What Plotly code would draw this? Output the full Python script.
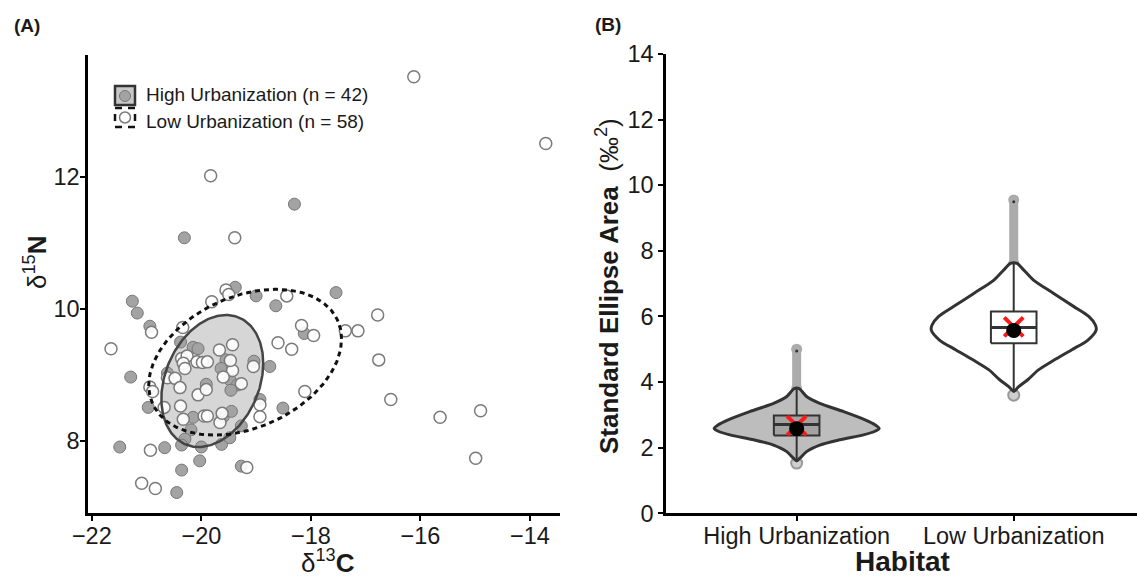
import numpy as np
import plotly.graph_objects as go

W, H = 1137, 577

# ---------------- Panel A data (isotope values) ----------------
high_d13C = [-18.30, -20.31, -21.26, -21.17, -20.94, -19.38, -19.00, -18.64, -17.54, -18.12,
             -21.29, -20.97, -20.38, -20.15, -20.06, -19.55, -19.64, -19.48, -19.34, -19.46,
             -19.91, -20.62, -20.15, -19.60, -19.45, -20.19, -20.30, -20.36, -20.00, -19.63,
             -19.48, -19.27, -19.04, -18.75, -18.93, -18.51, -21.49, -20.67, -20.03, -20.36,
             -19.27, -20.45]
high_d15N = [11.59, 11.08, 10.12, 9.94, 9.74, 10.33, 10.20, 10.05, 10.25, 9.63,
             8.97, 8.51, 9.50, 9.42, 9.40, 9.23, 9.10, 8.93, 8.85, 8.77,
             8.86, 9.03, 8.36, 8.37, 8.45, 8.17, 8.03, 7.94, 7.91, 7.95,
             8.05, 8.23, 9.21, 9.13, 8.63, 8.50, 7.91, 7.90, 7.70, 7.56,
             7.62, 7.22]

low_d13C = [-19.83, -19.39, -20.91, -19.81, -19.55, -19.50, -18.44, -18.17, -17.95, -20.34,
            -21.65, -20.94, -20.89, -20.68, -20.36, -20.26, -20.33, -20.08, -19.98, -19.89,
            -19.67, -19.43, -19.43, -19.60, -19.27, -20.06, -19.91, -20.62, -20.48, -20.38,
            -20.33, -19.95, -19.89, -19.66, -19.05, -18.60, -18.35, -18.93, -18.93, -18.11,
            -20.93, -19.17, -21.09, -20.84, -16.12, -13.71, -16.78, -17.37, -17.14, -16.76,
            -16.54, -15.64, -14.90, -14.99, -20.39, -19.47, -20.30, -19.62]
low_d15N = [12.02, 11.08, 9.65, 10.11, 10.29, 10.22, 10.20, 9.75, 9.60, 9.72,
            9.40, 8.82, 8.75, 8.51, 9.25, 9.29, 9.18, 9.20, 9.19, 9.20,
            9.38, 9.46, 9.07, 8.97, 8.87, 8.70, 8.78, 8.96, 8.95, 8.53,
            8.33, 8.38, 8.38, 8.28, 9.13, 9.49, 9.39, 8.55, 8.37, 8.75,
            7.86, 7.60, 7.36, 7.28, 13.52, 12.51, 9.91, 9.67, 9.67, 9.23,
            8.63, 8.36, 8.46, 7.74, 8.81, 9.22, 9.10, 8.42]

# Standard ellipse parameters (centre, covariance)
high_center = [-19.80, 8.91]
high_cov = [[0.865, 0.25], [0.25, 1.00]]
low_center = [-19.20, 9.195]
low_cov = [[3.10, 0.62], [0.62, 1.22]]

x_ticks_A = [-22, -20, -18, -16, -14]
y_ticks_A = [8, 10, 12]

# ---------------- Panel B data (SEA posterior summaries) ----------------
habitats = ["High Urbanization", "Low Urbanization"]
hab_pos = [1, 2]
sea_q1 = [2.37, 5.18]
sea_median = [2.71, 5.66]
sea_q3 = [2.98, 6.15]
sea_whisk_lo = [1.56, 3.68]
sea_whisk_hi = [3.80, 7.62]
sea_out_max = [5.00, 9.55]
sea_out_min = [1.53, 3.60]
sea_mean = [2.58, 5.57]
sea_mode = [2.67, 5.68]

high_dens_y = [1.60, 1.68, 1.88, 2.08, 2.24, 2.39, 2.50, 2.59, 2.70, 2.85, 3.10, 3.35, 3.56, 3.80]
high_dens_w = [0.00, 0.04, 0.12, 0.28, 0.52, 0.81, 0.95, 1.00, 0.95, 0.83, 0.57, 0.28, 0.12, 0.03]
low_dens_y = [3.72, 3.86, 4.07, 4.37, 4.67, 4.98, 5.28, 5.59, 5.74, 6.00, 6.30, 6.71, 7.11, 7.42, 7.62]
low_dens_w = [0.00, 0.06, 0.17, 0.30, 0.49, 0.70, 0.90, 1.00, 0.99, 0.91, 0.73, 0.48, 0.24, 0.12, 0.04]
y_ticks_B = [0, 2, 4, 6, 8, 10, 12, 14]

FONT = "Liberation Sans, Arial, sans-serif"
TXT = "#1a1a1a"


def ellipse(center, cov, n=240):
    L = np.linalg.cholesky(np.array(cov))
    t = np.linspace(0, 2 * np.pi, n)
    pts = L @ np.vstack([np.cos(t), np.sin(t)])
    return center[0] + pts[0], center[1] + pts[1]


def px(x):
    return x / W


def py(y):
    return 1 - y / H


def sc(**kw):
    base = dict(hoverinfo="skip", showlegend=False, xaxis="x2", yaxis="y2")
    base.update(kw)
    return go.Scatter(**base)


fig = go.Figure()

# ----- Panel A -----
hx, hy = ellipse(high_center, high_cov)
lx, ly = ellipse(low_center, low_cov)

fig.add_trace(go.Scatter(x=hx, y=hy, mode="lines", fill="toself", fillcolor="#d6d6d6",
                         line=dict(width=0), hoverinfo="skip", showlegend=False,
                         xaxis="x", yaxis="y"))
fig.add_trace(go.Scatter(x=high_d13C, y=high_d15N, mode="markers",
                         marker=dict(size=12, color="#a3a3a3", line=dict(color="#777777", width=1)),
                         showlegend=False, xaxis="x", yaxis="y"))
fig.add_trace(go.Scatter(x=low_d13C, y=low_d15N, mode="markers",
                         marker=dict(size=12, color="rgba(255,255,255,0.9)",
                                     line=dict(color="#7a7a7a", width=1.5)),
                         showlegend=False, xaxis="x", yaxis="y"))
fig.add_trace(go.Scatter(x=hx, y=hy, mode="lines", line=dict(color="#454545", width=2.5),
                         hoverinfo="skip", showlegend=False, xaxis="x", yaxis="y"))
fig.add_trace(go.Scatter(x=lx, y=ly, mode="lines", line=dict(color="#111111", width=3, dash="5px,4px"),
                         hoverinfo="skip", showlegend=False, xaxis="x", yaxis="y"))

# ----- Panel B -----
HALF_W = 0.38
BOX_HW = 0.105
violin_fill = ["#bdbdbd", "#ffffff"]
box_fill = ["#a3a3a3", "#ffffff"]
dens = [(high_dens_y, high_dens_w), (low_dens_y, low_dens_w)]

for i, pos in enumerate(hab_pos):
    # outlier column
    fig.add_trace(sc(x=[pos, pos], y=[sea_whisk_hi[i], sea_out_max[i]], mode="lines+markers",
                     line=dict(color="#ababab", width=9), marker=dict(size=11, color="#ababab")))
    fig.add_trace(sc(x=[pos], y=[sea_out_max[i] - 0.05], mode="markers",
                     marker=dict(size=3, color="#333333")))
    fig.add_trace(sc(x=[pos], y=[sea_out_min[i]], mode="markers",
                     marker=dict(size=11, color="#cfcfcf", line=dict(color="#9a9a9a", width=2))))
    # violin outline
    dy = np.array(dens[i][0])
    dw = np.array(dens[i][1])
    vx = np.concatenate([pos - HALF_W * dw, (pos + HALF_W * dw)[::-1]])
    vy = np.concatenate([dy, dy[::-1]])
    fig.add_trace(sc(x=vx, y=vy, mode="lines", fill="toself", fillcolor=violin_fill[i],
                     line=dict(color="#333333", width=3, shape="spline", smoothing=0.8)))
    # whisker
    fig.add_trace(sc(x=[pos, pos], y=[sea_whisk_lo[i], sea_whisk_hi[i]], mode="lines",
                     line=dict(color="#333333", width=2)))
    # box
    fig.add_trace(sc(x=[pos - BOX_HW, pos + BOX_HW, pos + BOX_HW, pos - BOX_HW, pos - BOX_HW],
                     y=[sea_q1[i], sea_q1[i], sea_q3[i], sea_q3[i], sea_q1[i]],
                     mode="lines", fill="toself", fillcolor=box_fill[i],
                     line=dict(color="#333333", width=2)))
    fig.add_trace(sc(x=[pos - BOX_HW, pos + BOX_HW], y=[sea_median[i], sea_median[i]],
                     mode="lines", line=dict(color="#333333", width=3)))
    # mode (red x) and mean (black dot)
    fig.add_trace(sc(x=[pos], y=[sea_mode[i]], mode="markers",
                     marker=dict(symbol="x-thin", size=19, line=dict(color="#ff1a1a", width=4))))
    fig.add_trace(sc(x=[pos], y=[sea_mean[i]], mode="markers",
                     marker=dict(size=15, color="#000000")))

axis_common = dict(showline=True, linecolor="#000000", linewidth=2.5, ticks="outside",
                   ticklen=5, tickwidth=1.5, tickcolor="#000000", showgrid=False, zeroline=False,
                   automargin=False, tickfont=dict(family=FONT, size=23.5, color=TXT))

fig.update_layout(
    width=W, height=H, margin=dict(l=0, r=0, t=0, b=0, pad=0, autoexpand=False),
    paper_bgcolor="white", plot_bgcolor="white", showlegend=False,
    font=dict(family=FONT, color=TXT),
    xaxis=dict(domain=[px(88), px(560)], range=[-22.07, -13.45], anchor="y", ticklabelstandoff=-5,
               tickvals=x_ticks_A, ticktext=["\u2212" + str(abs(v)) for v in x_ticks_A], **axis_common),
    yaxis=dict(domain=[py(513), py(55)], range=[6.91, 13.85], anchor="x", ticklabelstandoff=-4,
               tickvals=y_ticks_A, **axis_common),
    xaxis2=dict(domain=[px(666), 1.0], range=[0.398, 2.568], anchor="y2", ticklabelstandoff=-5,
                tickvals=hab_pos, ticktext=habitats, **axis_common),
    yaxis2=dict(domain=[py(513.3), py(54)], range=[0, 14], anchor="x2",
                tickvals=y_ticks_B, **axis_common),
)

# Axis titles and panel labels
ann = [
    dict(text="<b>(A)</b>", x=px(12), y=py(26), xanchor="left", yanchor="middle", font=dict(size=19)),
    dict(text="<b>(B)</b>", x=px(593), y=py(25), xanchor="left", yanchor="middle", font=dict(size=19)),
    dict(text="\u03b4<sup>13</sup><b>C</b>", x=px(328), y=py(561), xanchor="center", yanchor="middle",
         font=dict(size=26)),
    dict(text="\u03b4<sup>15</sup><b>N</b>", x=px(36), y=py(262), xanchor="center", yanchor="middle",
         textangle=-90, font=dict(size=26)),
    dict(text="<b>Standard Ellipse Area</b>\u00a0\u00a0(\u2030<sup>2</sup>)", x=px(607), y=py(286),
         xanchor="center", yanchor="middle", textangle=-90, font=dict(size=26)),
    dict(text="<b>Habitat</b>", x=px(902), y=py(561), xanchor="center", yanchor="middle",
         font=dict(size=28)),
    dict(text="High Urbanization (n = 42)", x=px(144), y=py(95), xanchor="left", yanchor="middle",
         font=dict(size=19)),
    dict(text="Low Urbanization (n = 58)", x=px(144), y=py(121), xanchor="left", yanchor="middle",
         font=dict(size=19)),
]
for a in ann:
    a.update(xref="paper", yref="paper", showarrow=False)
    a["font"].update(family=FONT, color=TXT)
fig.update_layout(annotations=ann)

# Legend keys
shapes = [
    dict(type="rect", x0=px(115), x1=px(135), y0=py(105), y1=py(86),
         fillcolor="#c8c8c8", line=dict(color="#333333", width=2.5)),
    dict(type="circle", x0=px(119.5), x1=px(130.5), y0=py(101.5), y1=py(90.5),
         fillcolor="#a3a3a3", line=dict(color="#777777", width=1)),
    dict(type="rect", x0=px(115), x1=px(135), y0=py(127), y1=py(108),
         fillcolor="#ffffff", line=dict(color="#111111", width=2.5, dash="7px,6px")),
    dict(type="circle", x0=px(119.5), x1=px(130.5), y0=py(123), y1=py(112),
         fillcolor="#ffffff", line=dict(color="#7a7a7a", width=1.5)),
]
for s in shapes:
    s.update(xref="paper", yref="paper")
fig.update_layout(shapes=shapes)

fig.write_html("out.html")
